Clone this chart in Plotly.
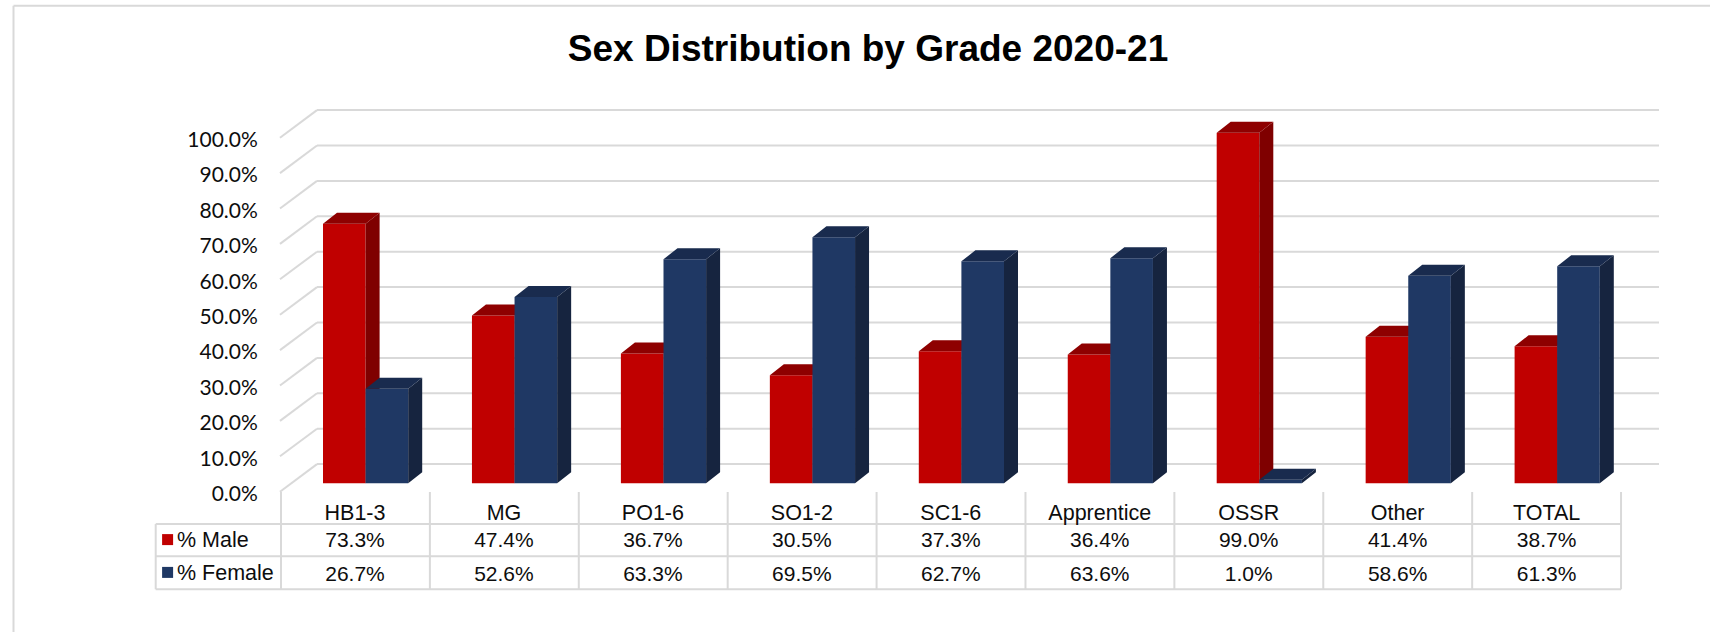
import plotly.graph_objects as go

# ---- data ----
categories = ["HB1-3", "MG", "PO1-6", "SO1-2", "SC1-6", "Apprentice", "OSSR", "Other", "TOTAL"]
male = [73.3, 47.4, 36.7, 30.5, 37.3, 36.4, 99.0, 41.4, 38.7]
female = [26.7, 52.6, 63.3, 69.5, 62.7, 63.6, 1.0, 58.6, 61.3]
y_ticks = [0, 10, 20, 30, 40, 50, 60, 70, 80, 90, 100]
title = "Sex Distribution by Grade 2020-21"

# ---- page geometry (pixels) ----
W, H = 1710, 632
CX0, CSTEP = 355.0, 148.95      # centre of first category, category pitch
Y0, YSCALE = 491.7, 3.54        # front-floor pixel row, pixels per percent
WALL_DX, WALL_DY = 36.0, 27.6   # floor depth
BAR_DX, BAR_DY = 14.0, 11.0     # bar depth
BAR_LIFT = 8.4                  # bar front base above front floor
BAR_W = 42.6
GRID = "#D9D9D9"
TXT = "#0D0D0D"
MALE = ("#C00000", "#7F0000", "#8E0000")
FEMALE = ("#1F3864", "#16243F", "#192B4E")

xr = [(0 - CX0) / CSTEP, (W - CX0) / CSTEP]
yr = [(Y0 - H) / YSCALE, Y0 / YSCALE]


def ux(px):
    return (px - CX0) / CSTEP


def uy(px):
    return (Y0 - px) / YSCALE


dx_u, dy_u = BAR_DX / CSTEP, BAR_DY / YSCALE
lift = BAR_LIFT / YSCALE
bw = BAR_W / CSTEP
male_off = -32.0 / CSTEP + bw / 2
female_off = male_off + bw

fig = go.Figure()


def series(name, vals, off, cols, xa, ya):
    xs = [i + off for i in range(len(vals))]
    fig.add_trace(go.Bar(x=xs, y=vals, base=[lift] * len(vals), width=bw, name=name,
                         marker=dict(color=cols[0], line=dict(width=0)),
                         xaxis=xa, yaxis=ya, showlegend=False,
                         hovertemplate=name + " %{y:.1f}%<extra></extra>"))
    sx, sy, tx, ty = [], [], [], []
    for x, v in zip(xs, vals):
        r, l = x + bw / 2, x - bw / 2
        b, t = lift, lift + v
        sx += [r, r + dx_u, r + dx_u, r, r, None]
        sy += [b, b + dy_u, t + dy_u, t, b, None]
        tx += [l, l + dx_u, r + dx_u, r, l, None]
        ty += [t, t + dy_u, t + dy_u, t, t, None]
    for px_, py_, c in ((sx, sy, cols[1]), (tx, ty, cols[2])):
        fig.add_trace(go.Scatter(x=px_, y=py_, mode="lines", fill="toself", fillcolor=c,
                                 line=dict(width=0, color=c), hoverinfo="skip",
                                 xaxis=xa, yaxis=ya, showlegend=False))


series("% Male", male, male_off, MALE, "x", "y")
series("% Female", female, female_off, FEMALE, "x2", "y2")

# table values and row labels
col_x = list(range(len(categories)))
rows = ((541.4, 539.6, "% Male", male, MALE[0]), (574.8, 572.4, "% Female", female, FEMALE[0]))
for text_px, mark_px, name, vals, c in rows:
    fig.add_trace(go.Scatter(x=col_x, y=[uy(text_px + 0.8)] * len(vals), mode="text",
                             text=[f"{v:.1f}%" for v in vals], textposition="middle center",
                             textfont=dict(family="Liberation Sans", size=21, color=TXT),
                             hoverinfo="skip", showlegend=False))
    fig.add_trace(go.Scatter(x=[ux(167.6)], y=[uy(mark_px)], mode="markers",
                             marker=dict(symbol="square", size=11, color=c),
                             hoverinfo="skip", showlegend=False))
    fig.add_trace(go.Scatter(x=[ux(177.0)], y=[uy(text_px)], mode="text", text=[name],
                             textposition="middle right",
                             textfont=dict(family="Liberation Sans", size=21.5, color=TXT),
                             hoverinfo="skip", showlegend=False))

# walls, gridlines and table rules
shapes = []


def line(x0, y0, x1, y1):
    shapes.append(dict(type="line", layer="below", xref="x", yref="y",
                       x0=ux(x0), y0=uy(y0), x1=ux(x1), y1=uy(y1),
                       line=dict(color=GRID, width=2)))


LEFT = 281.0
RIGHT = LEFT + 9 * CSTEP - 0.5
for t in y_ticks:
    yf = Y0 - t * YSCALE
    line(LEFT - 1, yf, LEFT + WALL_DX, yf - WALL_DY)
    line(LEFT + WALL_DX, yf - WALL_DY, 1659, yf - WALL_DY)

TAB_L = 155.7
for ypx in (524.0, 556.3, 589.3):
    line(TAB_L, ypx, RIGHT, ypx)
line(TAB_L, 524.0, TAB_L, 589.3)
for k in range(10):
    xv = LEFT + k * (RIGHT - LEFT) / 9
    line(xv, 492.0, xv, 589.3)

# outer chart border
line(13.5, H, 13.5, 5.7)
line(13.5, 5.7, W, 5.7)

fig.update_layout(
    width=W, height=H, autosize=False,
    margin=dict(l=0, r=0, t=0, b=0),
    paper_bgcolor="white", plot_bgcolor="rgba(0,0,0,0)",
    barmode="overlay", showlegend=False,
    title=dict(text=f"<b>{title}</b>", x=868 / W, xanchor="center", xref="paper",
               y=1 - 48 / H, yanchor="middle", yref="paper",
               font=dict(family="Liberation Sans", size=37, color="#000000")),
    xaxis=dict(range=xr, tickmode="array", tickvals=col_x, ticktext=categories, side="bottom",
               anchor="free", position=(H - Y0) / H, showgrid=False, zeroline=False, showline=False,
               ticks="outside", ticklen=1, tickcolor="rgba(0,0,0,0)",
               tickfont=dict(family="Liberation Sans", size=21.5, color=TXT)),
    yaxis=dict(range=yr, tickmode="array", tickvals=y_ticks,
               ticktext=[f"{t:.1f}%" for t in y_ticks],
               anchor="free", position=LEFT / W, showgrid=False, zeroline=False, showline=False,
               ticks="outside", ticklen=19, tickcolor="rgba(0,0,0,0)", ticklabelshift=2,
               tickfont=dict(family="Lato", size=21, color=TXT)),
    xaxis2=dict(overlaying="x", matches="x", visible=False),
    yaxis2=dict(overlaying="y", matches="y", visible=False),
    shapes=shapes,
)

fig.write_html("out.html", config=dict(displayModeBar=False),
               post_script="document.body.style.margin='0';document.body.style.overflow='hidden';")
